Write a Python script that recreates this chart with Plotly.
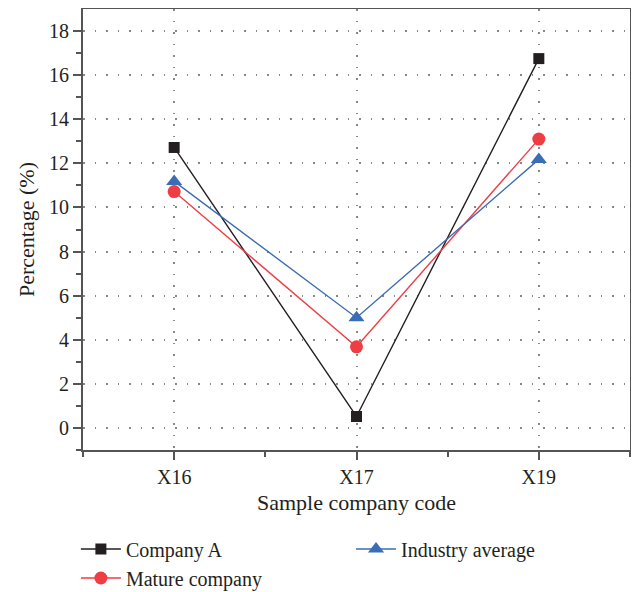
import plotly.graph_objects as go

categories = ["X16", "X17", "X19"]
company_a = [12.72, 0.52, 16.75]
mature = [10.72, 3.68, 13.1]
industry = [11.18, 5.0, 12.18]

SERIF = "Liberation Serif, Times New Roman, serif"

fig = go.Figure()
series = [
    ("Company A", company_a, "#231f20", "square", 11, "legend"),
    ("Mature company", mature, "#ee3e44", "circle", 13, "legend"),
    ("Industry average", industry, "#3a6db5", "triangle-up", 14, "legend2"),
]
for name, vals, col, sym, sz, leg in series:
    fig.add_trace(go.Scatter(
        x=[0, 1, 2], y=vals, name=name, mode="lines+markers",
        line=dict(color=col, width=1.4),
        marker=dict(symbol=sym, size=sz, color=col),
        legend=leg,
    ))

# page has an 8px body margin, so the figure is shrunk by 8px on each axis
fig.update_layout(
    width=631, height=584,
    margin=dict(l=75, r=9, t=1, b=142),
    plot_bgcolor="white", paper_bgcolor="white",
    font=dict(family=SERIF, size=18, color="#231f20"),
    legend=dict(orientation="v", x=-0.013, xanchor="left", yref="container", y=0.107, yanchor="top",
                itemwidth=40, tracegroupgap=0, font=dict(size=20)),
    legend2=dict(orientation="v", x=0.49, xanchor="left", yref="container", y=0.107, yanchor="top",
                 itemwidth=40, tracegroupgap=0, font=dict(size=20)),
    xaxis=dict(
        range=[-0.5, 2.5], tickvals=[0, 1, 2], ticktext=categories,
        tickfont=dict(size=20), automargin=False,
        showline=True, linecolor="#555", linewidth=2, mirror=True,
        ticks="outside", ticklen=8, tickwidth=1.5, tickcolor="#555",
        minor=dict(tickvals=[-0.5, 0.5, 1.5, 2.5], ticks="outside", ticklen=5, tickcolor="#555"),
        showgrid=True, gridcolor="#888", griddash="1.5px,10px", gridwidth=1.5,
        zeroline=False,
        title=dict(text="Sample company code", standoff=8),
    ),
    yaxis=dict(
        range=[-1, 19], tickvals=list(range(0, 19, 2)),
        tickfont=dict(size=20), automargin=False,
        showline=True, linecolor="#555", linewidth=2, mirror=True,
        ticks="outside", ticklen=8, tickwidth=1.5, tickcolor="#555",
        minor=dict(tickvals=list(range(-1, 19, 2)), ticks="outside", ticklen=5, tickcolor="#555"),
        showgrid=True, gridcolor="#888", griddash="1.5px,10px", gridwidth=1.5,
        zeroline=False,
        title=dict(text="Percentage (%)", standoff=8),
    ),
)

fig.write_html("out.html")
